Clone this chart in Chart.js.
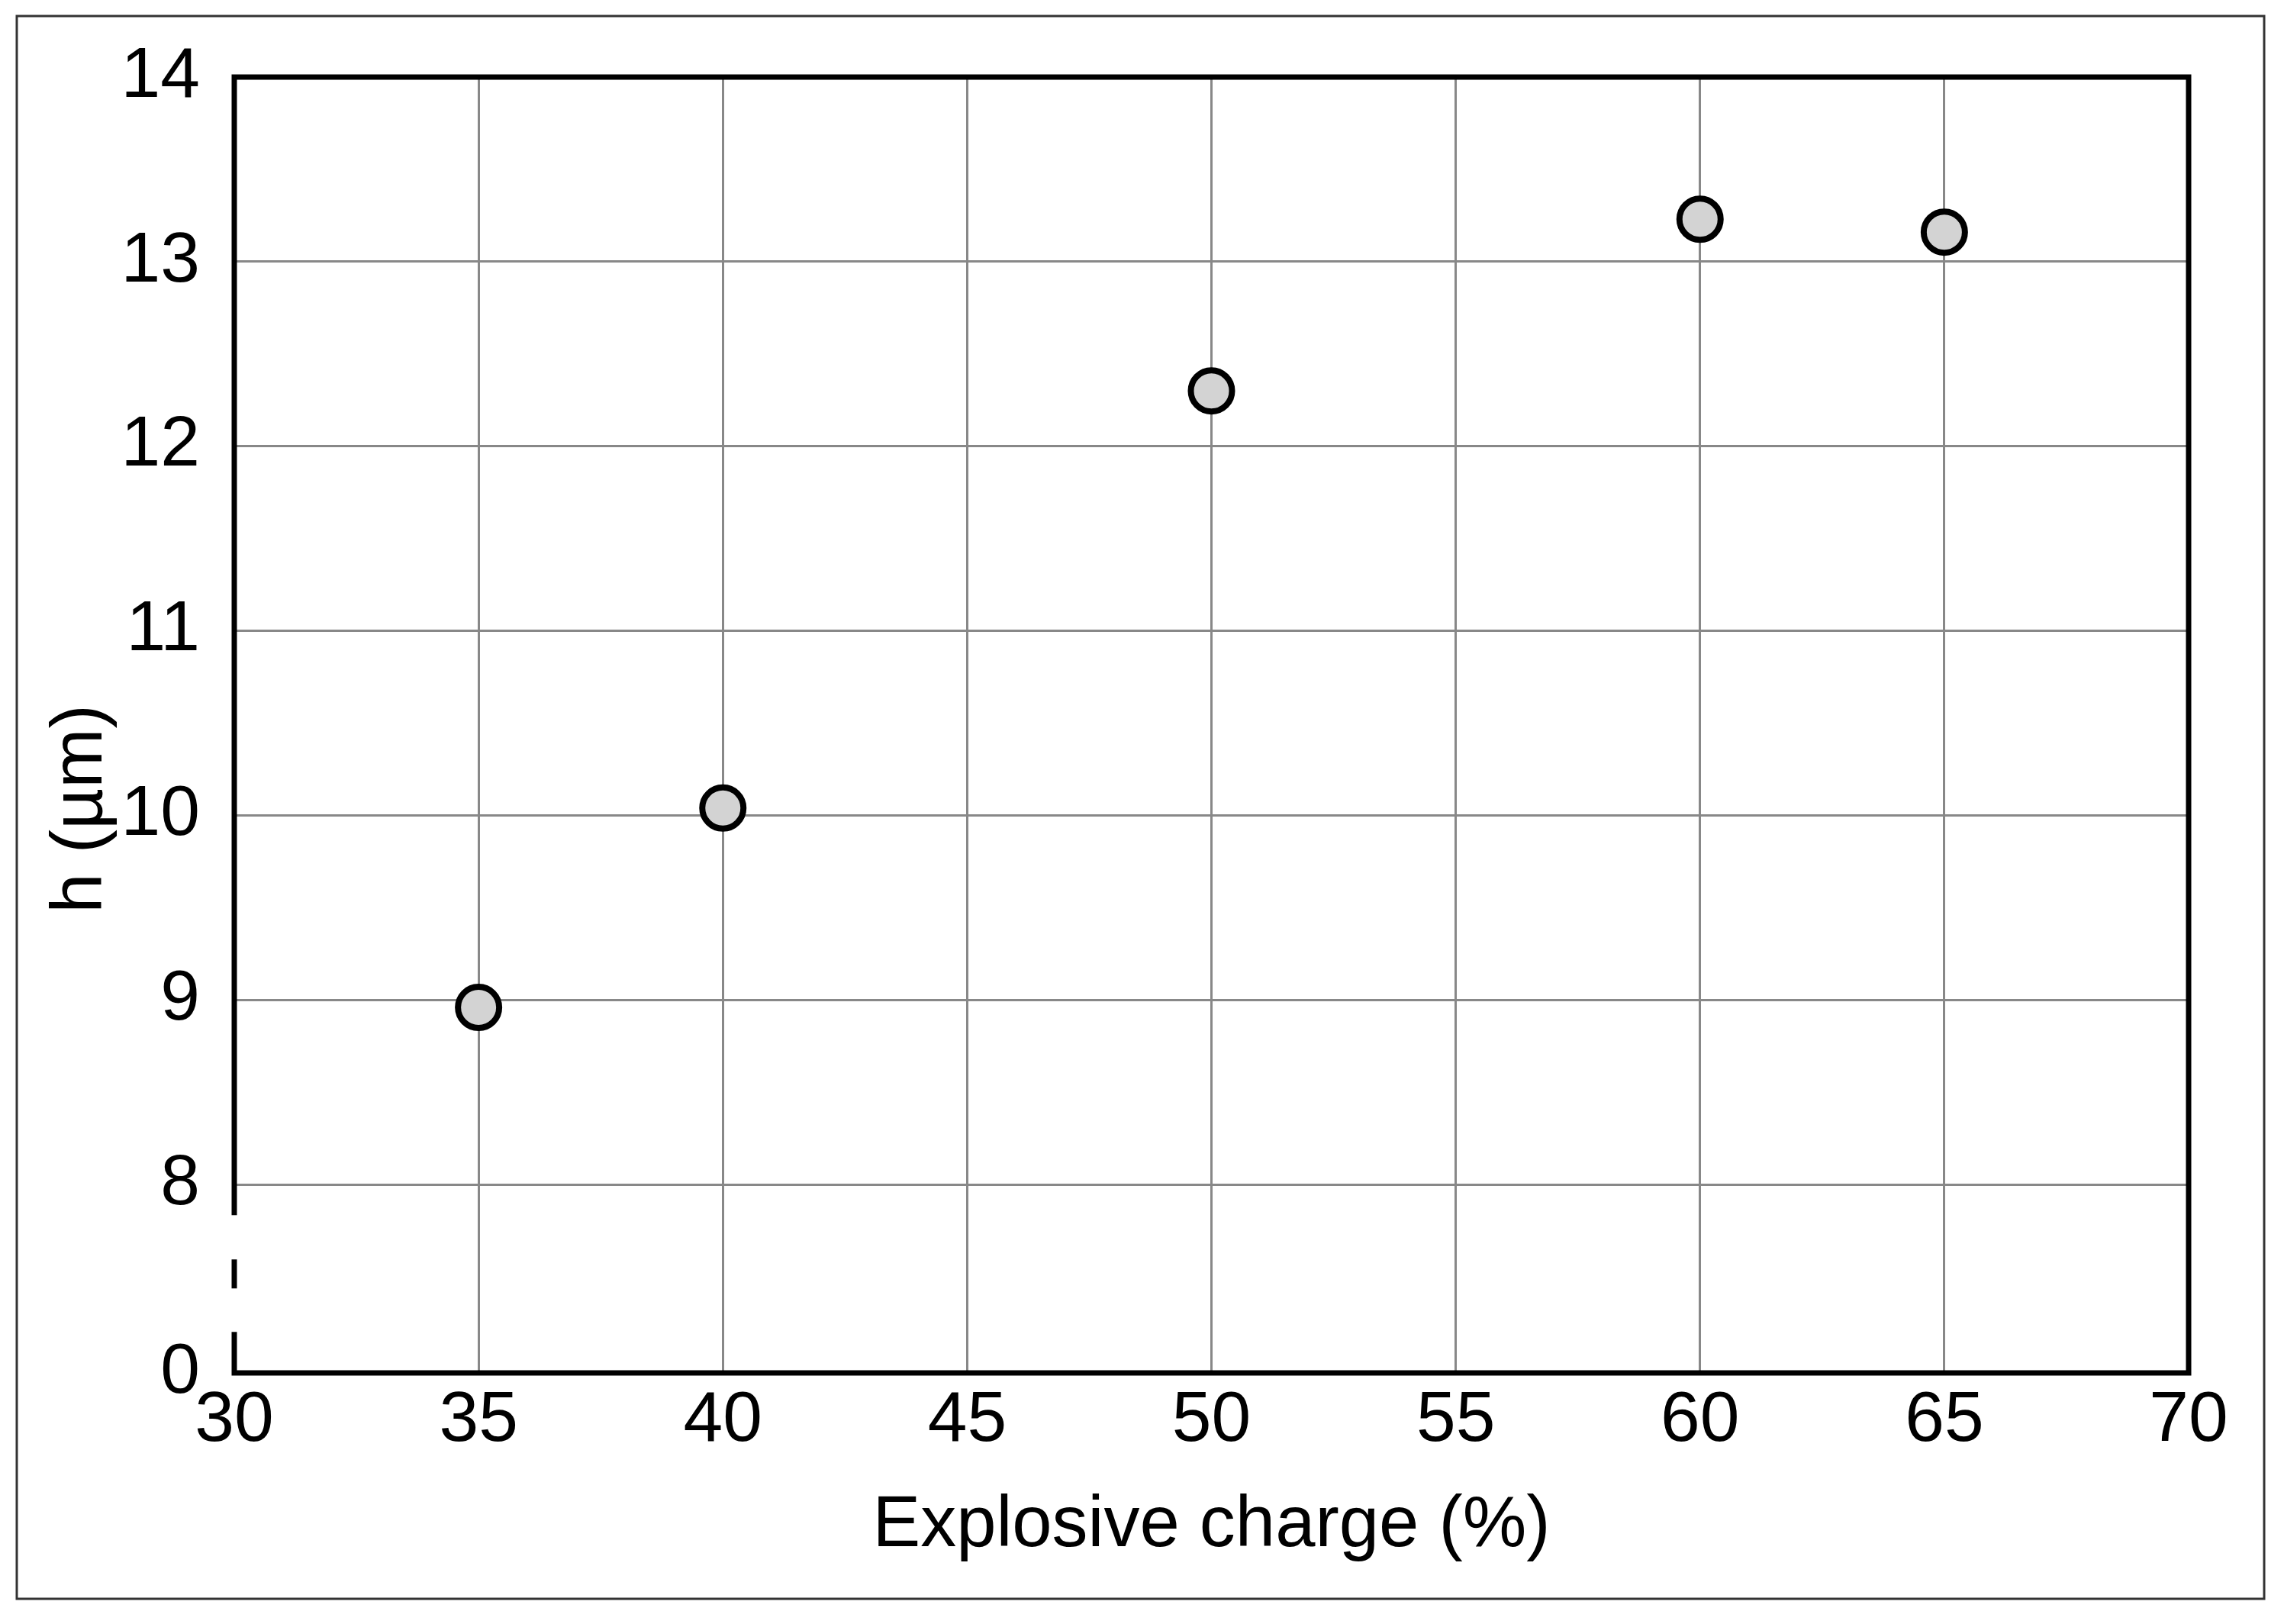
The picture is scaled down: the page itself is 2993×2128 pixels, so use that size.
<!DOCTYPE html>
<html>
<head>
<meta charset="utf-8">
<title>h vs explosive charge</title>
<script src="https://cdn.jsdelivr.net/npm/chart.js@4.4.1/dist/chart.umd.min.js"></script>
<style>
  html, body { margin: 0; padding: 0; background: #fff; }
  canvas { display: block; }
</style>
</head>
<body>
<canvas id="chart1" width="2993" height="2128"></canvas>
<script>
// explosive charge (%) and measured h (um)
const charge = [35, 40, 50, 60, 65];
const hValues = [8.96, 10.04, 12.30, 13.23, 13.16];

// y axis is broken between 0 and 8, the "0" tick sits just under 8
const yTickValues = [6.98, 8, 9, 10, 11, 12, 13, 14];
const yTickLabels = ["0", "8", "9", "10", "11", "12", "13", "14"];
const xTickLabels = ["30", "35", "40", "45", "50", "55", "60", "65", "70"];

const FONT = "Liberation Sans";

// frame, plot border, axis break and y title
const decorPlugin = {
  id: "decor",
  afterDraw(chart) {
    const ctx = chart.ctx;
    const a = chart.chartArea;
    const y = chart.scales.y;
    ctx.save();
    // outer frame
    ctx.strokeStyle = "#333";
    ctx.lineWidth = 3;
    ctx.strokeRect(22, 21, 2945, 2074);
    // plot border
    ctx.strokeStyle = "#000";
    ctx.lineWidth = 7;
    ctx.strokeRect(a.left, a.top, a.right - a.left, a.bottom - a.top);
    // axis break: two white gaps on the left axis below 8
    const y8 = y.getPixelForValue(8);
    ctx.fillStyle = "#fff";
    ctx.fillRect(a.left - 6, y8 + 40, 12, 58);
    ctx.fillRect(a.left - 6, y8 + 136, 12, 57);
    // y axis title
    ctx.fillStyle = "#000";
    ctx.font = "94px '" + FONT + "'";
    ctx.textAlign = "center";
    ctx.textBaseline = "alphabetic";
    ctx.translate(133, 1060);
    ctx.rotate(-Math.PI / 2);
    ctx.fillText("h (\u00b5m)", 0, 0);
    ctx.restore();
  }
};

const ctx = document.getElementById("chart1").getContext("2d");
new Chart(ctx, {
  type: "scatter",
  data: {
    datasets: [{
      label: "h",
      data: charge.map((c, i) => ({ x: c, y: hValues[i] })),
      pointRadius: 27,
      pointHoverRadius: 27,
      pointBorderWidth: 8,
      pointBackgroundColor: "#d3d3d3",
      pointBorderColor: "#000"
    }]
  },
  options: {
    responsive: false,
    animation: false,
    devicePixelRatio: 1,
    layout: {
      padding: { top: 101, right: 125, left: 0, bottom: 0 }
    },
    plugins: {
      legend: { display: false },
      tooltip: { enabled: false }
    },
    scales: {
      x: {
        type: "linear",
        min: 30,
        max: 70,
        afterFit(scale) { scale.height = 329; },
        afterBuildTicks(scale) {
          scale.ticks = xTickLabels.map(t => ({ value: Number(t) }));
        },
        ticks: {
          padding: 8,
          maxRotation: 0,
          autoSkip: false,
          color: "#000",
          font: { family: FONT, size: 93, lineHeight: 1.2 },
          callback: (v, i) => xTickLabels[i]
        },
        grid: { color: "#888", lineWidth: 3, drawTicks: false },
        border: { display: false },
        title: {
          display: true,
          text: "Explosive charge (%)",
          color: "#000",
          font: { family: FONT, size: 94, lineHeight: 1.2 },
          padding: { top: 0, bottom: 72 }
        }
      },
      y: {
        type: "linear",
        min: yTickValues[0],
        max: 14,
        afterFit(scale) { scale.width = 307; },
        afterBuildTicks(scale) {
          scale.ticks = yTickValues.map(v => ({ value: v }));
        },
        ticks: {
          padding: 45,
          autoSkip: false,
          color: "#000",
          font: { family: FONT, size: 93, lineHeight: 1.2 },
          callback: (v, i) => yTickLabels[i]
        },
        grid: { color: "#888", lineWidth: 3, drawTicks: false },
        border: { display: false }
      }
    }
  },
  plugins: [decorPlugin]
});
</script>
</body>
</html>
